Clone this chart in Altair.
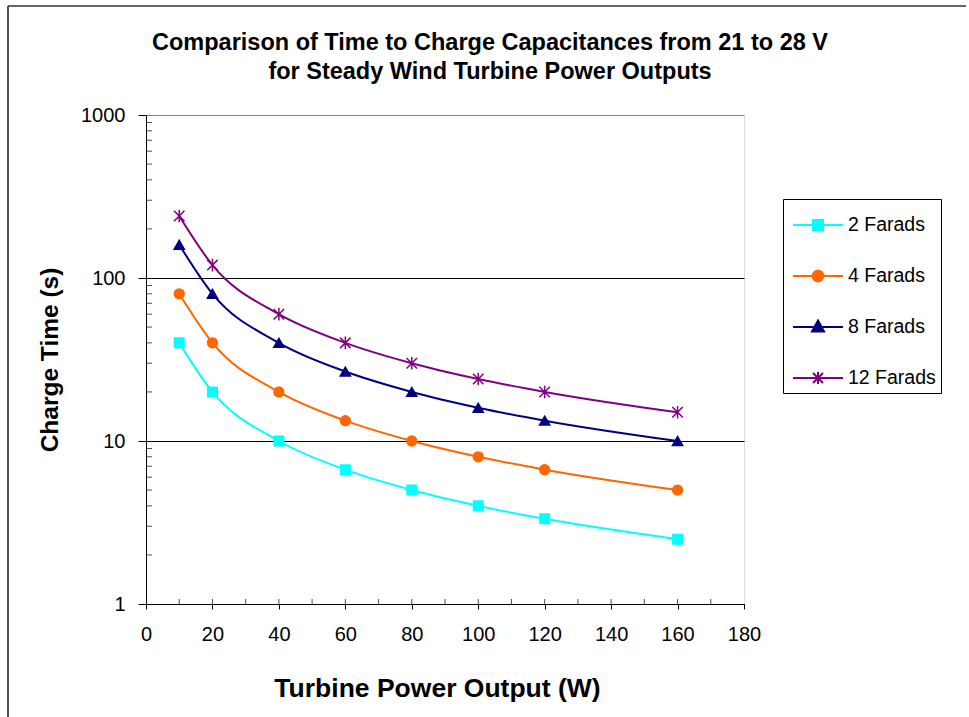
import altair as alt
import pandas as pd

# ---- data ----
power = [10, 20, 40, 60, 80, 100, 120, 160]
farads_2 = [40, 20, 10, 6.67, 5, 4, 3.33, 2.5]
farads_4 = [80, 40, 20, 13.33, 10, 8, 6.67, 5]
farads_8 = [160, 80, 40, 26.67, 20, 16, 13.33, 10]
farads_12 = [240, 120, 60, 40, 30, 24, 20, 15]
series_names = ["2 Farads", "4 Farads", "8 Farads", "12 Farads"]
x_tick_values = [0, 20, 40, 60, 80, 100, 120, 140, 160, 180]
x_inner_ticks = [10, 20, 30, 40, 50, 60, 70, 80, 90, 100, 110, 120, 130, 140, 150, 160, 170]
y_tick_values = [1, 10, 100, 1000]
y_minor_ticks = [2, 3, 4, 5, 6, 7, 8, 9, 20, 30, 40, 50, 60, 70, 80, 90,
                 200, 300, 400, 500, 600, 700, 800, 900]
title_lines = ["Comparison of Time to Charge Capacitances from 21 to 28 V",
               "for Steady Wind Turbine Power Outputs"]

# ---- styles ----
FONT = "Liberation Sans, Arial, sans-serif"
colors = ["#00FFFF", "#FF6600", "#000080", "#800080"]
ASTERISK = "M-1,-1L1,1M-1,1L1,-1M0,-1.2V1.2"
point_shapes = ["square", "circle", "triangle-up", ASTERISK]
point_sizes = [90, 110, 130, 130]
legend_shapes = [
    "M-1.25,0H1.25M-0.25,-0.25H0.25V0.25H-0.25Z",
    "M-1.25,0H1.25M0.27,0A0.27,0.27,0,1,1,-0.27,0A0.27,0.27,0,1,1,0.27,0Z",
    "M-1.25,0H1.25M0,-0.32L0.3,0.22H-0.3Z",
    "M-1.25,0H1.25M-0.25,-0.25L0.25,0.25M-0.25,0.25L0.25,-0.25M0,-0.3V0.3",
]

W, H = 598, 489
PAD_L, PAD_T = 146, 115

rows = []
for name, vals in zip(series_names, [farads_2, farads_4, farads_8, farads_12]):
    for p, v in zip(power, vals):
        rows.append({"power": p, "time": v, "series": name})
df = pd.DataFrame(rows)

x_scale = alt.Scale(domain=[0, 180], nice=False, zero=False)
y_scale = alt.Scale(type="log", domain=[1, 1000], nice=False)

x_axis = alt.Axis(
    values=x_tick_values, title="Turbine Power Output (W)", grid=False,
    tickSize=5, tickColor="black", domainColor="black", labelFlush=False,
    labelOverlap=False, labelFontSize=20, labelFont=FONT, labelColor="black",
    labelPadding=15, titleFont=FONT, titleFontSize=26.5, titleFontWeight="bold",
    titleColor="black", titlePadding=31, titleX=291,
)
y_axis = alt.Axis(
    values=y_tick_values, format="d", title="Charge Time (s)",
    grid=True, gridWidth=1,
    gridColor={"condition": {"test": "datum.value >= 1000", "value": "#808080"}, "value": "black"},
    tickSize=8, tickColor="black", domainColor="black", labelFlush=False,
    labelOverlap=False, labelFontSize=20, labelFont=FONT, labelColor="black",
    labelPadding=13, titleFont=FONT, titleFontSize=24.5, titleFontWeight="bold",
    titleColor="black", titlePadding=18,
)

def x_enc():
    return alt.X("power:Q", scale=x_scale, axis=x_axis)

def y_enc():
    return alt.Y("time:Q", scale=y_scale, axis=y_axis)

def scale_of(rng):
    return alt.Scale(domain=series_names, range=rng)

lines = alt.Chart(df).mark_line(interpolate="monotone", strokeWidth=2).encode(
    x=x_enc(), y=y_enc(),
    color=alt.Color("series:N", scale=scale_of(colors), legend=None),
    detail="series:N",
)

points = alt.Chart(df).mark_point(filled=True, opacity=1, strokeWidth=1.5).encode(
    x=x_enc(), y=y_enc(),
    color=alt.Color("series:N", scale=scale_of(colors), legend=None),
    stroke=alt.Stroke("series:N", scale=scale_of(colors), legend=None),
    shape=alt.Shape("series:N", scale=scale_of(point_shapes), legend=None),
    size=alt.Size("series:N", scale=scale_of(point_sizes), legend=None),
)

leg = alt.Legend(
    orient="none", legendX=637, legendY=84, title=None, direction="vertical",
    padding=5, rowPadding=20, symbolSize=1600, symbolStrokeWidth=2,
    symbolOffset=9, labelOffset=9, labelFontSize=19.5, labelFont=FONT,
    labelColor="black", labelLimit=300, strokeColor="black", fillColor="white",
    symbolOpacity=1,
)
legend_layer = alt.Chart(df).transform_filter("false").mark_point(
    filled=True, opacity=1, strokeWidth=2
).encode(
    x=x_enc(), y=y_enc(),
    color=alt.Color("series:N", scale=scale_of(colors), legend=leg),
    stroke=alt.Stroke("series:N", scale=scale_of(colors), legend=leg),
    shape=alt.Shape("series:N", scale=scale_of(legend_shapes), legend=leg),
)

y_minor = alt.Chart(pd.DataFrame({"time": y_minor_ticks})).mark_tick(
    orient="horizontal", size=6, thickness=1, color="black"
).encode(y=y_enc(), x=alt.value(3))

x_inner = alt.Chart(pd.DataFrame({"power": x_inner_ticks})).mark_tick(
    orient="vertical", size=5, thickness=1, color="black"
).encode(x=x_enc(), y=alt.value(H - 2.5))

# outer chart-area frame (top and left edges visible in the reference)
frame_src = pd.DataFrame({"frame": [1]})
frame_top = alt.Chart(frame_src).mark_rule(color="#333333", strokeWidth=1.7).encode(
    x=alt.value(8 - PAD_L), x2=alt.value(966 - PAD_L), y=alt.value(6 - PAD_T)
)
frame_left = alt.Chart(frame_src).mark_rule(color="#333333", strokeWidth=1.7).encode(
    x=alt.value(8 - PAD_L), y=alt.value(6 - PAD_T), y2=alt.value(717 - PAD_T)
)

chart = alt.layer(frame_top, frame_left, lines, points, y_minor, x_inner, legend_layer).resolve_scale(
    color="independent", stroke="independent", shape="independent", size="independent"
).properties(
    width=W, height=H,
    padding={"left": PAD_L, "top": PAD_T, "right": 969 - PAD_L - W, "bottom": 717 - PAD_T - H},
    autosize=alt.AutoSizeParams(type="none"),
    title=alt.TitleParams(
        title_lines, font=FONT, fontSize=23.5, fontWeight="bold", color="black",
        anchor="middle", dx=45, dy=100, offset=22, lineHeight=29,
    ),
).configure_view(
    stroke="#808080", strokeWidth=1.5
).configure(background="white")

chart.save("out.html", embed_options={"renderer": "svg", "actions": False})
